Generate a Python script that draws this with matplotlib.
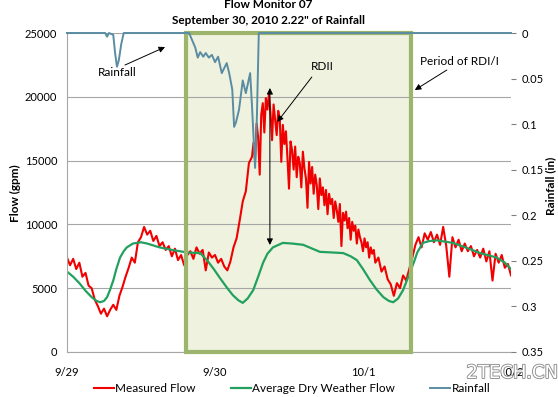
import matplotlib
matplotlib.use('Agg')
import matplotlib.pyplot as plt
import matplotlib.patheffects as pe
from matplotlib.patches import Rectangle
import numpy as np

plt.rcParams['font.family'] = ['Lato', 'DejaVu Sans']

# hours from 9/29 00:00
day_ticks = [0, 24, 48, 72]
day_labels = ['9/29', '9/30', '10/1', '10/2']

# measured flow (gpm): half-hourly, quarter-hourly through the storm peak
flow_hours = np.concatenate([np.arange(0, 30, 0.5),
                             np.arange(30, 50, 0.25),
                             np.arange(50, 72.01, 0.5)])
measured_flow = [
    # 0 - 29.5 h
    7400, 6800, 7300, 6500, 7000, 5900, 6200, 5200, 5000, 4100,
    3600, 3000, 3400, 2800, 3300, 3700, 3300, 4400, 5100, 5900,
    6600, 7400, 7000, 8600, 9000, 9800, 9200, 9500, 8700, 9100,
    8300, 8600, 8000, 8300, 7500, 8100, 7200, 7600, 6800, 7600,
    7900, 7300, 8200, 7700, 8000, 6400, 7800, 7400, 7600, 7000,
    7300, 6700, 6400, 7100, 8200, 8900, 10300, 11800, 12600, 14800,
    # 30 - 49.75 h
    15300, 16400, 15000, 17900, 16800, 13900, 18600, 19500,
    17200, 19900, 19000, 20200, 18700, 16600, 19400, 18200,
    17000, 18900, 18300, 14900, 17800, 16300, 17300, 15200,
    12800, 16500, 15800, 14300, 16100, 13700, 15300, 14800,
    12900, 15700, 14400, 13600, 11300, 14900, 13200, 14500,
    12400, 13900, 13100, 11200, 13600, 12300, 12900, 11500,
    12700, 10800, 12400, 11600, 12000, 10500, 11800, 11100,
    10200, 11600, 8300, 10900, 10300, 11000, 9700, 10500,
    8800, 10200, 9500, 9900, 8500, 9600, 9000, 8600,
    7900, 8900, 8200, 8600, 7400, 8200, 7700, 8000,
    # 50 - 72 h
    7000, 7400, 6300, 6700, 5700, 5300, 4400, 5400, 5000, 6000,
    5600, 6500, 7400, 8400, 9000, 8200, 9300, 8800, 9400, 8600,
    9200, 8400, 9800, 8300, 5900, 9000, 8200, 8800, 7900, 8500,
    7900, 8300, 7500, 8000, 7400, 8100, 7100, 7900, 5600, 7700,
    7000, 7600, 6600, 6900, 6000,
]

# average dry weather flow (gpm)
dwf_hours = [0, 1, 2, 3, 4, 4.8, 5.4, 6, 6.5, 7, 7.5, 8, 8.6, 9.2, 9.7,
             10.7, 12, 13, 15, 17, 19.5, 21.6, 22.7, 23.8, 24.8, 26, 26.9,
             27.8, 28.5, 29.3, 30.2, 31, 31.8, 32.5, 33.4, 35, 36.5, 38.3,
             41, 43, 44.8, 46, 47, 48, 49.1, 50.2, 51.3, 52.2, 52.9, 53.7,
             54.5, 55.6, 56.3, 56.8, 57.7, 58.8, 60, 62.6, 64.9, 67, 69.7,
             71, 72]
dry_weather_flow = [6300, 5900, 5400, 4800, 4300, 4000, 3900, 4000, 4300,
                    4900, 5600, 6500, 7400, 7900, 8200, 8500, 8600, 8500,
                    8200, 8000, 7800, 7750, 7200, 6500, 5800, 5000, 4450,
                    4050, 3850, 4200, 4850, 5900, 7000, 7700, 8200, 8550,
                    8500, 8400, 7850, 7800, 7750, 7500, 7200, 6500, 5650,
                    4900, 4300, 4000, 3900, 4200, 4850, 6200, 7100, 7800,
                    8550, 8700, 8750, 8550, 8150, 7750, 7400, 7000, 6500]

# rainfall (in)
rain_hours = [0, 6.2, 6.5, 6.8, 7.5, 7.8, 8.1, 8.4, 8.8, 9.2,
              19.8, 20.3, 20.8, 21.2, 21.6, 22.1, 22.5, 23.0, 23.5, 24.0,
              24.5, 25.1, 25.9, 26.3, 26.8, 27.1, 27.4, 27.9, 28.5, 29.0,
              29.7, 30.0, 30.5, 30.8, 31.1, 72]
rainfall = [0, 0, 0.004, 0, 0.002, 0.022, 0.037, 0.03, 0.012, 0,
            0, 0.008, 0.016, 0.027, 0.021, 0.026, 0.022, 0.027, 0.024, 0.032,
            0.026, 0.044, 0.033, 0.044, 0.062, 0.103, 0.098, 0.084, 0.052, 0.066,
            0.044, 0.080, 0.148, 0.09, 0, 0]

rdii_start, rdii_end = 19.3, 55.8
rain_ticks = [0, 0.05, 0.1, 0.15, 0.2, 0.25, 0.3, 0.35]
rain_labels = ['0', '0.05', '0.1', '0.15', '0.2', '0.25', '0.3', '0.35']

fig = plt.figure(figsize=(5.58, 3.97), dpi=100)
ax = fig.add_axes([67/558, 1-352/397, 444/558, 319/397])

# period of RDI/I box
ax.add_patch(Rectangle((rdii_start, 0), rdii_end - rdii_start, 1,
                       transform=ax.get_xaxis_transform(),
                       facecolor='#eef2df', edgecolor='none', zorder=0.4))
ax.add_patch(Rectangle((rdii_start, 0), rdii_end - rdii_start, 1,
                       transform=ax.get_xaxis_transform(), fill=False,
                       edgecolor='#9cb46c', lw=3, zorder=3, clip_on=False))

l1, = ax.plot(flow_hours, measured_flow, color='#f00000', lw=1.5, zorder=2)
l2, = ax.plot(dwf_hours, dry_weather_flow, color='#22a05e', lw=1.6, zorder=2.1)

ax.set_xlim(0, 72)
ax.set_ylim(0, 25000)
ax.set_xticks(day_ticks)
ax.set_xticklabels(day_labels)
ax.set_yticks(range(0, 25001, 5000))
ax.tick_params(axis='x', length=0, pad=11, labelsize=8)
ax.tick_params(axis='y', length=0, pad=7, labelsize=8)
ax.set_axisbelow(True)
ax.yaxis.grid(True, color='#a6a6a6', lw=0.8)
for s in ['top', 'right']:
    ax.spines[s].set_visible(False)
for s in ['left', 'bottom']:
    ax.spines[s].set_color('#a6a6a6')
    ax.spines[s].set_linewidth(0.8)

ax2 = ax.twinx()
l3, = ax2.plot(rain_hours, rainfall, color='#5a8ca2', lw=1.4, clip_on=False)
ax2.set_ylim(0.35, 0)
ax2.set_yticks(rain_ticks)
ax2.set_yticklabels(rain_labels)
ax2.tick_params(axis='y', length=3.6, pad=4, labelsize=8, color='#808080')
for s in ax2.spines.values():
    s.set_visible(False)

arrow = dict(arrowstyle='-|>', color='black', lw=0.7, mutation_scale=9,
             shrinkA=0, shrinkB=0)
ax.text(8.1, 21870, 'Rainfall', ha='center', va='center', fontsize=8.5)
ax.annotate('', xy=(15.9, 23900), xytext=(9.4, 22490), arrowprops=arrow, zorder=5)
ax.text(41.4, 22400, 'RDII', ha='center', va='center', fontsize=8.5)
ax.annotate('', xy=(34.1, 18030), xytext=(39.7, 21550), arrowprops=arrow, zorder=5)
ax.annotate('', xy=(32.9, 20690), xytext=(32.9, 8390),
            arrowprops=dict(arrow, arrowstyle='<|-|>'), zorder=5)
ax.text(63.7, 22730, 'Period of RDI/I', ha='center', va='center', fontsize=8.5)
ax.annotate('', xy=(56.4, 20530), xytext=(61.6, 22100), arrowprops=arrow, zorder=5)

fig.text(268/558, 1-5/397, 'Flow Monitor 07', ha='center', va='center',
         fontsize=8.5, weight='bold')
fig.text(268/558, 1-20/397, 'September 30, 2010 2.22" of Rainfall', ha='center',
         va='center', fontsize=8.5, weight='bold')
fig.text(15/558, 1-193/397, 'Flow (gpm)', rotation=90, ha='center', va='center',
         fontsize=8.5, weight='bold')
fig.text(551/558, 1-186/397, 'Rainfall (in)', rotation=90, ha='center', va='center',
         fontsize=8.5, weight='bold')

fig.legend([l1, l2, l3], ['Measured Flow', 'Average Dry Weather Flow', 'Rainfall'],
           loc='center', bbox_to_anchor=(292/558, 1-389/397), ncol=3,
           frameon=False, fontsize=8.5, handlelength=1.7, handletextpad=0.1,
           columnspacing=3.0)

# site watermark
fig.text(512/558, 1-373/397, '2TECH.CN', ha='center', va='center', fontsize=13,
         family='DejaVu Sans', color='white',
         path_effects=[pe.withStroke(linewidth=1.3, foreground='#8c8c8c')])

fig.savefig('out.png', dpi=100)
